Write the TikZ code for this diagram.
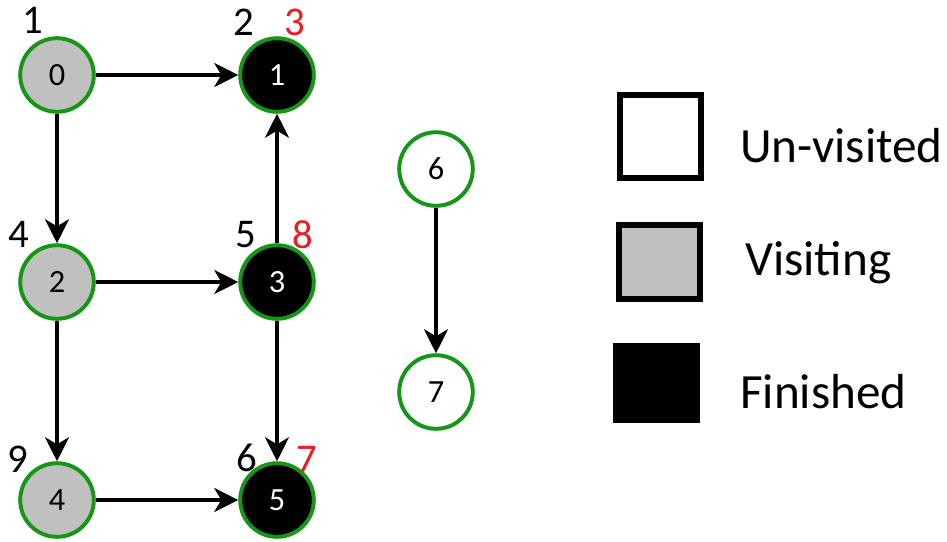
\documentclass[tikz,border=0pt]{standalone}
\usepackage{fontspec}
\setmainfont{Carlito}
\usetikzlibrary{arrows.meta}
\definecolor{ringgreen}{RGB}{22,150,22}
\definecolor{visitgray}{RGB}{192,192,192}
\definecolor{timered}{RGB}{237,28,36}

\tikzset{
  vertex/.style={circle, draw=ringgreen, line width=2.8pt, minimum size=1.84cm,
    inner sep=0pt, font=\fontsize{23}{27}\selectfont},
  visiting/.style={vertex, fill=visitgray},
  finished/.style={vertex, fill=black, text=white},
  edge/.style={-{Stealth[length=17pt, width=17pt, inset=5pt]}, line width=2.7pt},
  stamp/.style={anchor=base, inner sep=0pt, font=\fontsize{29}{34}\selectfont},
  keybox/.style={draw=black, line width=4.3pt, minimum width=2.03cm, inner sep=0pt},
  keytext/.style={anchor=base west, inner sep=0pt, font=\fontsize{35}{40}\selectfont}
}

\begin{document}
\begin{tikzpicture}[x=0.025cm, y=-0.025cm]
  \useasboundingbox (0,0) rectangle (947,541);
  % Vertices
  \node[visiting] (v0) at (57,75)   {0};
  \node[finished] (v1) at (277,75)  {1};
  \node[visiting] (v2) at (57,282)  {2};
  \node[finished] (v3) at (277,282) {3};
  \node[visiting] (v4) at (57,500)  {4};
  \node[finished] (v5) at (277,500) {5};
  \node[vertex]   (v6) at (436,169) {6};
  \node[vertex]   (v7) at (436,392) {7};
  % Edges
  \draw[edge] (v0) -- (v1);
  \draw[edge] (v0) -- (v2);
  \draw[edge] (v2) -- (v3);
  \draw[edge] (v2) -- (v4);
  \draw[edge] (v3) -- (v1);
  \draw[edge] (v3) -- (v5);
  \draw[edge] (v4) -- (v5);
  \draw[edge] (v6) -- (v7);
  % Discovery / finish times
  \node[stamp] (d0) at (33,33)  {1};
  \node[stamp] (d1) at (244,35) {2};
  \node[stamp, timered] (f1) at (295,35) {3};
  \node[stamp] (d2) at (19,247)  {4};
  \node[stamp] (d3) at (246,247) {5};
  \node[stamp, timered] (f3) at (303,248) {8};
  \node[stamp] (d4) at (18,472)  {9};
  \node[stamp] (d5) at (247,471) {6};
  \node[stamp, timered] (f5) at (307,472) {7};
  % Legend
  \node[keybox, fill=white, minimum height=2.08cm]    (kwhite) at (660.5,136.5) {};
  \node[keybox, fill=visitgray, minimum height=1.85cm] (kgray) at (659.5,262) {};
  \node[keybox, fill=black, minimum height=1.85cm]     (kblack) at (656.5,383) {};
  \node[keytext] (twhite) at (740,162) {Un-visited};
  \node[keytext] (tgray)  at (745,275) {Visiting};
  \node[keytext] (tblack) at (740,408) {Finished};
\end{tikzpicture}
\end{document}
